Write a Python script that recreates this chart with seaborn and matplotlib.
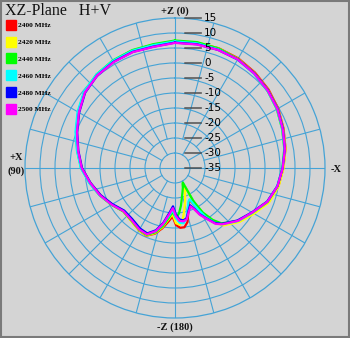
import numpy as np
import pandas as pd
import matplotlib
matplotlib.use("Agg")
import matplotlib.pyplot as plt
from matplotlib.lines import Line2D
from matplotlib.patches import Rectangle
import seaborn as sns

# pattern angles in degrees (0 = +Z, counter-clockwise towards +X)
angles = [0, 10, 20, 30, 40, 50, 60, 70, 80, 90,
          100, 110, 120, 130, 140, 150,
          157, 163, 168, 173, 177,
          181, 185, 189, 193, 197,
          202, 205, 208, 209, 212, 216, 220,
          230, 240, 250, 260, 270,
          280, 290, 300, 310, 320, 330, 340, 350, 360]

# gain in dB for each frequency
gain_2400 = [7.0, 6.4, 6.3, 6.0, 5.4, 4.3, 2.1, -0.1, -2.1, -3.9,
             -6.3, -8.5, -10.7, -12.6, -12.2, -11.0,
             -10.5, -12.1, -14.4, -17.0, -18.8,
             -16.0, -15.0, -15.0, -16.5, -19.8,
             -22.5, -23.3, -20.5, -19.5, -16.3, -12.8, -10.3,
             -7.3, -4.9, -1.9, 0.0, 1.1,
             2.4, 3.5, 4.7, 5.7, 6.5, 7.2, 7.5, 7.3, 7.0]
gain_2420 = [7.4, 6.8, 6.7, 6.3, 5.6, 4.4, 2.2, 0.0, -2.0, -3.8,
             -6.2, -8.4, -10.6, -12.5, -12.1, -11.0,
             -10.6, -12.3, -14.8, -17.8, -19.6,
             -16.6, -16.0, -18.0, -21.0, -23.5,
             -26.0, -27.5, -28.5, -21.5, -16.5, -12.6, -10.0,
             -7.0, -4.6, -1.6, 0.1, 1.2,
             2.4, 3.4, 4.6, 5.5, 6.3, 7.0, 7.4, 7.5, 7.4]
gain_2440 = [7.5, 6.9, 6.8, 6.4, 5.7, 4.5, 2.3, 0.1, -1.9, -3.7,
             -6.1, -8.3, -10.5, -12.5, -12.3, -11.2,
             -10.8, -12.6, -15.2, -18.3, -20.3,
             -18.3, -19.8, -22.3, -24.8, -26.5,
             -28.0, -29.0, -29.5, -22.5, -17.5, -13.6, -10.9,
             -7.6, -5.2, -2.1, -0.3, 0.8,
             2.0, 3.0, 4.2, 5.2, 6.1, 6.9, 7.4, 7.6, 7.5]
gain_2460 = [7.2, 6.6, 6.6, 6.3, 5.7, 4.6, 2.5, 0.3, -1.8, -3.6,
             -6.0, -8.3, -10.7, -12.8, -12.6, -11.5,
             -11.2, -13.0, -15.8, -19.0, -21.0,
             -18.3, -16.6, -16.4, -17.8, -20.5,
             -23.0, -23.5, -20.5, -19.2, -15.8, -12.4, -10.5,
             -7.5, -5.2, -2.2, -0.4, 0.8,
             2.1, 3.1, 4.3, 5.2, 6.0, 6.7, 7.1, 7.2, 7.2]
gain_2480 = [6.8, 6.1, 6.2, 5.9, 5.3, 4.1, 1.9, -0.3, -2.3, -4.0,
             -6.4, -8.6, -10.9, -12.9, -12.8, -11.7,
             -11.3, -13.3, -16.3, -20.0, -22.2,
             -19.5, -17.8, -17.3, -17.8, -19.8,
             -21.6, -20.2, -17.6, -17.1, -15.2, -12.3, -10.7,
             -7.8, -5.4, -2.3, -0.3, 0.9,
             2.2, 3.3, 4.5, 5.4, 6.2, 6.8, 6.9, 6.9, 6.8]
gain_2500 = [6.7, 6.0, 6.1, 5.8, 5.3, 4.2, 2.0, -0.2, -2.2, -3.9,
             -6.3, -8.4, -10.6, -12.6, -12.4, -11.3,
             -11.0, -13.0, -16.0, -19.5, -21.6,
             -19.0, -17.3, -17.0, -17.5, -19.5,
             -21.2, -19.8, -17.3, -16.8, -15.0, -12.0, -10.5,
             -7.6, -5.3, -2.2, -0.3, 0.9,
             2.2, 3.2, 4.4, 5.3, 6.1, 6.8, 6.9, 6.8, 6.7]

freq_labels = ["2400 MHz", "2420 MHz", "2440 MHz", "2460 MHz", "2480 MHz", "2500 MHz"]
freq_colors = ["#ff0000", "#ffff00", "#00ff00", "#00ffff", "#0000ff", "#ff00ff"]
ring_values = [15, 10, 5, 0, -5, -10, -15, -20, -25, -30, -35]

BG = "#d4d4d4"
GRID = "#45a3d6"

series = [gain_2400, gain_2420, gain_2440, gain_2460, gain_2480, gain_2500]
df = pd.concat([
    pd.DataFrame({"theta": np.deg2rad(angles), "gain": g, "freq": lab})
    for g, lab in zip(series, freq_labels)
], ignore_index=True)

fig = plt.figure(figsize=(3.5, 3.38), dpi=100)
fig.patch.set_facecolor(BG)
ax = fig.add_axes([25 / 350, 20 / 338, 300 / 350, 300 / 338], projection="polar")
ax.set_facecolor("none")
ax.set_theta_zero_location("N")
ax.set_theta_direction(1)

# grid: rings every 5 dB, spokes every 15 deg
ax.set_xticks([])
ax.set_yticks(range(-30, 15, 5))
ax.set_yticklabels([])
ax.yaxis.grid(True, color=GRID, lw=0.8)
ax.spines["polar"].set_color(GRID)
ax.spines["polar"].set_linewidth(0.9)
for a in range(0, 360, 15):
    start = -35 if a % 90 == 0 else (-30 if a % 30 == 0 else -25)
    ax.plot([np.deg2rad(a)] * 2, [start, 15], color=GRID, lw=0.8, zorder=1)

sns.lineplot(data=df, x="theta", y="gain", hue="freq", hue_order=freq_labels,
             palette=dict(zip(freq_labels, freq_colors)), sort=False,
             estimator=None, linewidth=1.6, legend=False, ax=ax, zorder=3)
ax.set_xlabel("")
ax.set_ylabel("")
ax.set_ylim(-35, 15)

# radial scale labels along +Z axis
for v in ring_values:
    ax.annotate(str(v), xy=(0, v), xytext=(21, 0), textcoords="offset points",
                ha="left", va="center", fontsize=7.5, color="#000000",
                annotation_clip=False, zorder=5,
                arrowprops=dict(arrowstyle="-", color="#444444", lw=1.0,
                                shrinkA=0, shrinkB=7, relpos=(0, 0.5)))

# direction labels
lab_kw = dict(family="Liberation Serif", weight="bold", fontsize=7.5, color="#111111",
              ha="center", va="center")
fig.text(175 / 350, 1 - 11 / 338, "+Z (0)", **lab_kw)
fig.text(16 / 350, 1 - 158 / 338, "+X", **lab_kw)
fig.text(16 / 350, 1 - 171 / 338, "(90)", **lab_kw)
fig.text(336 / 350, 1 - 169 / 338, "-X", **lab_kw)
fig.text(175 / 350, 1 - 327 / 338, "-Z (180)", **lab_kw)

fig.text(5 / 350, 1 - 11 / 338, "XZ-Plane   H+V", family="Liberation Serif",
         fontsize=11.5, color="#111111", ha="left", va="center")

handles = [Line2D([0], [0], marker="s", ls="none", markersize=6.5,
                  markerfacecolor=c, markeredgecolor=c) for c in freq_colors]
fig.legend(handles, freq_labels, loc="upper left", bbox_to_anchor=(2 / 350, 1 - 17 / 338),
           frameon=False, prop=dict(family="Liberation Serif", weight="bold", size=5.3),
           handlelength=1.0, handletextpad=0.5, labelspacing=1.45, borderpad=0.2)

fig.add_artist(Rectangle((0.003, 0.003), 0.994, 0.994, transform=fig.transFigure,
                         fill=False, edgecolor="#7a7a7a", lw=1.5))

fig.savefig("out.png", dpi=100, facecolor=BG)
